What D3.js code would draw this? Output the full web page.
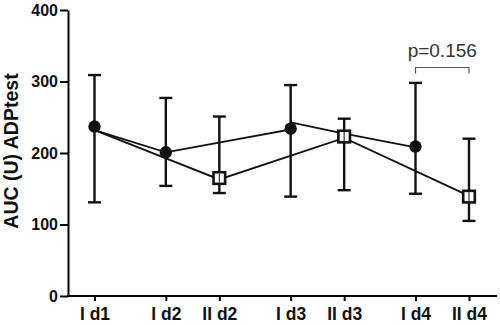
<!DOCTYPE html>
<html>
<head>
<meta charset="utf-8">
<script src="https://cdn.jsdelivr.net/npm/d3@7"></script>
<style>
  html, body { margin: 0; padding: 0; background: #fff; }
  svg { display: block; }
</style>
</head>
<body>
<svg id="chart" width="500" height="325"></svg>
<script>
// ---- data ----
const categories = ["I d1", "I d2", "II d2", "I d3", "II d3", "I d4", "II d4"];
const slots      = [0, 4, 7, 11, 14, 18, 21];           // category spacing on the axis
const yTicks     = [0, 100, 200, 300, 400];

// markers (filled circles = group I, open squares = group II)
const circleCats   = ["I d1", "I d2", "I d3", "I d4"];
const circleValues = [237, 201, 234, 209];
const squareCats   = ["II d2", "II d3", "II d4"];
const squareValues = [165, 223, 139];

// error bars per category
const errUpper = [309, 277, 251, 295, 248, 298, 220];
const errLower = [131, 154, 144, 139, 148, 143, 105];

// connecting lines
const lineICats   = ["I d1", "I d2", "I d3", "I d3", "II d3", "I d4"];
const lineIValues = [232, 201, 233, 243, 227, 208];
const lineIICats   = ["I d1", "II d2", "II d3", "II d4"];
const lineIIValues = [232, 163, 221, 140];

// significance annotation
const pCats  = ["I d4", "II d4"];
const pLabel = "p=0.156";

// ---- layout ----
const svg = d3.select("#chart");
const font = "'Liberation Sans', Arial, Helvetica, sans-serif";
const axisLeftX = 68, axisRightX = 497, axisY = 296, axisTopY = 10;

const x = d3.scaleLinear().domain([0, 21]).range([94.5, 469]);
const y = d3.scaleLinear().domain([0, 400]).range([axisY, axisTopY]);
const xc = c => x(slots[categories.indexOf(c)]);

// y axis
const gy = svg.append("g").attr("transform", `translate(${axisLeftX},0)`)
  .call(d3.axisLeft(y).tickValues(yTicks).tickSize(8).tickPadding(2).tickSizeOuter(0));
gy.select(".domain").attr("stroke", "#000").attr("stroke-width", 2);
gy.selectAll(".tick line").attr("stroke", "#000").attr("stroke-width", 2);
gy.selectAll(".tick text").attr("font-family", font).attr("font-size", 16)
  .attr("font-weight", "bold").attr("fill", "#111");

// x axis
const gx = svg.append("g").attr("transform", `translate(0,${axisY})`)
  .call(d3.axisBottom(x).tickValues(slots).tickSize(5).tickPadding(7)
    .tickFormat(s => categories[slots.indexOf(s)]));
gx.select(".domain").remove();
gx.append("line").attr("x1", axisLeftX - 1).attr("x2", axisRightX)
  .attr("y1", 0).attr("y2", 0).attr("stroke", "#000").attr("stroke-width", 2);
gx.selectAll(".tick line").attr("stroke", "#000").attr("stroke-width", 2);
gx.selectAll(".tick text").attr("font-family", font).attr("font-size", 17.5)
  .attr("font-weight", "bold").attr("fill", "#111");

// y title
svg.append("text")
  .attr("transform", "translate(18,151) rotate(-90)")
  .attr("text-anchor", "middle")
  .attr("font-family", font).attr("font-size", 19.5).attr("font-weight", "bold")
  .attr("fill", "#111")
  .text("AUC (U) ADPtest");

// connecting lines
const line = d3.line().x(d => xc(d.c)).y(d => y(d.v));
svg.append("path")
  .datum(lineICats.map((c, i) => ({ c, v: lineIValues[i] })))
  .attr("d", line).attr("fill", "none").attr("stroke", "#111").attr("stroke-width", 1.8);
svg.append("path")
  .datum(lineIICats.map((c, i) => ({ c, v: lineIIValues[i] })))
  .attr("d", line).attr("fill", "none").attr("stroke", "#111").attr("stroke-width", 1.8);

// error bars
const errG = svg.append("g").attr("stroke", "#111").attr("stroke-width", 2.4);
categories.forEach((c, i) => {
  const cx = xc(c);
  errG.append("line").attr("x1", cx).attr("x2", cx).attr("y1", y(errUpper[i])).attr("y2", y(errLower[i]));
  errG.append("line").attr("x1", cx - 6.5).attr("x2", cx + 6.5).attr("y1", y(errUpper[i])).attr("y2", y(errUpper[i]));
  errG.append("line").attr("x1", cx - 6.5).attr("x2", cx + 6.5).attr("y1", y(errLower[i])).attr("y2", y(errLower[i]));
});

// circles
svg.append("g").selectAll("circle")
  .data(circleCats.map((c, i) => ({ c, v: circleValues[i] })))
  .join("circle")
  .attr("cx", d => xc(d.c)).attr("cy", d => y(d.v)).attr("r", 6.2)
  .attr("fill", "#111");

// squares
const sq = svg.append("g").selectAll("g")
  .data(squareCats.map((c, i) => ({ c, v: squareValues[i] })))
  .join("g")
  .attr("transform", d => `translate(${xc(d.c)},${y(d.v)})`);
sq.append("rect").attr("x", -5.8).attr("y", -5.8).attr("width", 11.6).attr("height", 11.6)
  .attr("fill", "#fff").attr("stroke", "#111").attr("stroke-width", 2.6);
sq.append("line").attr("x1", 0).attr("x2", 0).attr("y1", -4.5).attr("y2", 4.5)
  .attr("stroke", "#333").attr("stroke-width", 1.2);

// significance bracket
const bx1 = xc(pCats[0]), bx2 = xc(pCats[1]);
svg.append("path")
  .attr("d", `M${bx1},73.5 V67.5 H${bx2} V73.5`)
  .attr("fill", "none").attr("stroke", "#555").attr("stroke-width", 1.2);
svg.append("text")
  .attr("x", (bx1 + bx2) / 2).attr("y", 56.7)
  .attr("text-anchor", "middle")
  .attr("font-family", font).attr("font-size", 19).attr("fill", "#333")
  .text(pLabel);
</script>
</body>
</html>
